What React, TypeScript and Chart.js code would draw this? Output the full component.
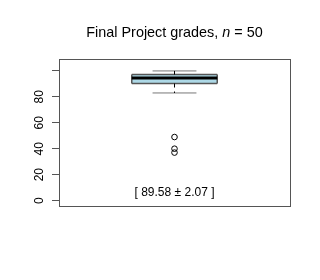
import React, { useEffect, useRef } from "react";
import { Chart, registerables } from "chart.js";

Chart.register(...registerables);

// ---- data ----
const TITLE_MAIN = "Final Project grades, ";
const TITLE_N = "n";
const TITLE_REST = " = 50";
const WHISKER_LOW = [83];
const QUARTILE_1 = [90.3];
const MEDIAN = [94.6];
const QUARTILE_3 = [97.2];
const WHISKER_HIGH = [100];
const OUTLIERS = [49, 40, 37];
const Y_TICKS = [0, 20, 40, 60, 80, 100];
const Y_TICK_LABELS = ["0", "20", "40", "60", "80", ""];
const SUMMARY_TEXT = "[ 89.58 \u00b1 2.07 ]";

// ---- layout / style constants ----
const Y_MIN = -4.2;
const Y_MAX = 109.2;
const BOX_X = 0.5;
const BOX_HALF = 0.185;
const CAP_HALF = 0.095;
const SUMMARY_Y = 6;
const FONT = '"Liberation Sans", Arial, Helvetica, sans-serif';

const seg = (x0: number, y0: number, x1: number, y1: number) => [
  { x: x0, y: y0 },
  { x: x1, y: y1 },
];

const frameAndText = {
  id: "frameAndText",
  afterDraw(chart: any) {
    const { ctx, chartArea, scales } = chart;
    ctx.save();
    // frame
    ctx.strokeStyle = "#555";
    ctx.lineWidth = 1;
    ctx.strokeRect(
      chartArea.left + 0.5,
      chartArea.top + 0.5,
      chartArea.right - chartArea.left,
      chartArea.bottom - chartArea.top
    );
    // title with italic n
    const cx = (chartArea.left + chartArea.right) / 2;
    const normal = `14.4px ${FONT}`;
    const italic = `italic 14.4px ${FONT}`;
    ctx.font = normal;
    const w1 = ctx.measureText(TITLE_MAIN).width;
    const w3 = ctx.measureText(TITLE_REST).width;
    ctx.font = italic;
    const w2 = ctx.measureText(TITLE_N).width;
    let x = cx - (w1 + w2 + w3) / 2;
    const ty = 36.5;
    ctx.fillStyle = "#000";
    ctx.textBaseline = "alphabetic";
    ctx.textAlign = "left";
    ctx.font = normal;
    ctx.fillText(TITLE_MAIN, x, ty);
    x += w1;
    ctx.font = italic;
    ctx.fillText(TITLE_N, x, ty);
    x += w2;
    ctx.font = normal;
    ctx.fillText(TITLE_REST, x, ty);
    // summary label
    ctx.font = `12px ${FONT}`;
    ctx.textAlign = "center";
    ctx.textBaseline = "middle";
    ctx.fillText(
      SUMMARY_TEXT,
      scales.x.getPixelForValue(BOX_X),
      scales.y.getPixelForValue(SUMMARY_Y)
    );
    ctx.restore();
  },
};

export default function App() {
  const ref = useRef<HTMLCanvasElement | null>(null);
  useEffect(() => {
    if (!ref.current) return;
    const x0 = BOX_X - BOX_HALF;
    const x1 = BOX_X + BOX_HALF;
    const c0 = BOX_X - CAP_HALF;
    const c1 = BOX_X + CAP_HALF;
    const q1 = QUARTILE_1[0];
    const q3 = QUARTILE_3[0];
    const med = MEDIAN[0];
    const lo = WHISKER_LOW[0];
    const hi = WHISKER_HIGH[0];
    const base = { pointRadius: 0, borderWidth: 1, fill: false, tension: 0 };
    const boxEdge = "#555";
    const chart = new Chart(ref.current, {
      type: "line",
      data: {
        datasets: [
          { ...base, order: 5, data: seg(x0, q1, x1, q1), borderColor: boxEdge, borderWidth: 1.5 },
          {
            ...base,
            order: 5,
            data: seg(x0, q3, x1, q3),
            borderColor: boxEdge,
            borderWidth: 1.5,
            fill: { target: 0 },
            backgroundColor: "#add8e6",
          },
          { ...base, order: 4, data: seg(x0, q1, x0, q3), borderColor: boxEdge, borderWidth: 1.5 },
          { ...base, order: 4, data: seg(x1, q1, x1, q3), borderColor: boxEdge, borderWidth: 1.5 },
          { ...base, order: 1, data: seg(x0, med, x1, med), borderColor: "#000", borderWidth: 3 },
          { ...base, order: 2, data: seg(BOX_X, q3, BOX_X, hi), borderColor: "#000", borderDash: [4, 4] },
          { ...base, order: 2, data: seg(BOX_X, q1, BOX_X, lo), borderColor: "#000", borderDash: [4, 4] },
          { ...base, order: 2, data: seg(c0, hi, c1, hi), borderColor: "#777" },
          { ...base, order: 2, data: seg(c0, lo, c1, lo), borderColor: "#777" },
          {
            order: 0,
            data: OUTLIERS.map((v) => ({ x: BOX_X, y: v })),
            showLine: false,
            pointRadius: 2.8,
            pointBorderWidth: 1,
            pointBorderColor: "#000",
            pointBackgroundColor: "rgba(0,0,0,0)",
            fill: false,
          },
        ],
      },
      options: {
        responsive: false,
        animation: false,
        events: [],
        layout: { padding: { left: 0, right: 30, top: 59, bottom: 74 } },
        plugins: {
          legend: { display: false },
          tooltip: { enabled: false },
          title: { display: false },
          filler: { drawTime: "beforeDatasetsDraw" },
        },
        scales: {
          x: { type: "linear", min: 0, max: 1, display: false },
          y: {
            type: "linear",
            min: Y_MIN,
            max: Y_MAX,
            afterBuildTicks: (s: any) => {
              s.ticks = Y_TICKS.map((v) => ({ value: v }));
            },
            afterFit: (s: any) => {
              s.width = 59;
            },
            grid: { drawOnChartArea: false, drawTicks: true, tickLength: 7, color: "#555" },
            border: { display: true, color: "#555" },
            ticks: {
              minRotation: 90,
              maxRotation: 90,
              crossAlign: "center",
              padding: 6,
              color: "#000",
              font: { family: FONT, size: 12 },
              callback: (_v: any, i: number) => Y_TICK_LABELS[i],
            },
          },
        },
      },
      plugins: [frameAndText],
    });
    return () => chart.destroy();
  }, []);
  return (
    <div style={{ position: "fixed", left: 0, top: 0, width: 320, height: 280, background: "#fff" }}>
      <canvas ref={ref} width={320} height={280} />
    </div>
  );
}
